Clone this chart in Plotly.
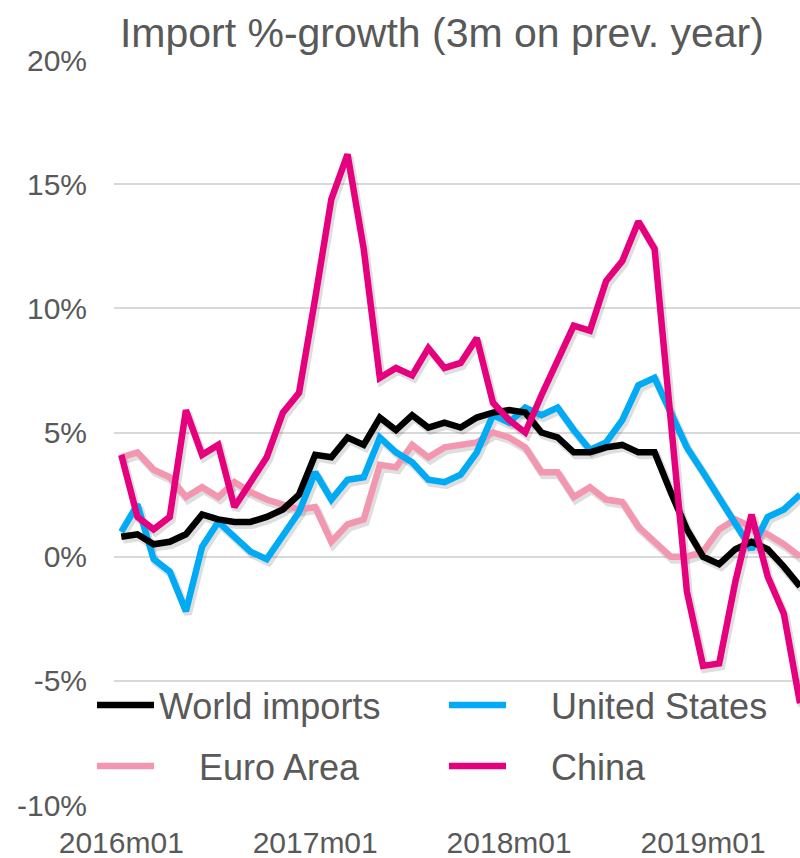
import plotly.graph_objects as go

months = [
    "2016m01", "2016m02", "2016m03", "2016m04", "2016m05", "2016m06", "2016m07", "2016m08", "2016m09", "2016m10", "2016m11", "2016m12",
    "2017m01", "2017m02", "2017m03", "2017m04", "2017m05", "2017m06", "2017m07", "2017m08", "2017m09", "2017m10", "2017m11", "2017m12",
    "2018m01", "2018m02", "2018m03", "2018m04", "2018m05", "2018m06", "2018m07", "2018m08", "2018m09", "2018m10", "2018m11", "2018m12",
    "2019m01", "2019m02", "2019m03", "2019m04", "2019m05", "2019m06", "2019m07",
]
tick_months = ["2016m01", "2017m01", "2018m01", "2019m01"]
y_ticks = [-10, -5, 0, 5, 10, 15, 20]
y_ticktext = ["-10%", "-5%", "0%", "5%", "10%", "15%", "20%"]

world = [0.8, 0.9, 0.5, 0.6, 0.9, 1.7, 1.5, 1.4, 1.4, 1.6, 1.9, 2.5,
         4.1, 4.0, 4.8, 4.5, 5.6, 5.1, 5.7, 5.2, 5.4, 5.2, 5.6, 5.8,
         5.9, 5.8, 5.0, 4.8, 4.2, 4.2, 4.4, 4.5, 4.2, 4.2, 2.6, 1.1,
         0.0, -0.3, 0.3, 0.6, 0.3, -0.4, -1.2]
usa = [1.0, 2.1, -0.1, -0.6, -2.2, 0.4, 1.4, 0.8, 0.2, -0.1, 0.8, 1.8,
       3.4, 2.3, 3.1, 3.2, 4.8, 4.2, 3.8, 3.1, 3.0, 3.3, 4.2, 5.7,
       5.4, 6.0, 5.7, 6.0, 5.1, 4.3, 4.6, 5.5, 6.9, 7.2, 5.8, 4.4,
       3.4, 2.4, 1.4, 0.3, 1.6, 1.9, 2.5]
euro = [4.0, 4.2, 3.5, 3.2, 2.4, 2.8, 2.4, 3.0, 2.6, 2.3, 2.1, 1.9,
        2.0, 0.6, 1.3, 1.5, 3.7, 3.6, 4.5, 4.0, 4.4, 4.5, 4.6, 5.0,
        4.8, 4.4, 3.4, 3.4, 2.4, 2.8, 2.3, 2.2, 1.2, 0.6, 0.0, 0.0,
        0.2, 1.1, 1.5, 1.2, 0.9, 0.5, 0.0]
china = [4.1, 1.6, 1.1, 1.6, 5.9, 4.1, 4.5, 2.0, 3.0, 4.0, 5.8, 6.6,
         10.4, 14.4, 16.2, 12.4, 7.2, 7.6, 7.3, 8.4, 7.6, 7.8, 8.8, 6.2,
         5.5, 5.0, 6.5, 7.9, 9.3, 9.1, 11.1, 11.9, 13.5, 12.4, 5.5, -1.4,
         -4.4, -4.3, -1.0, 1.7, -0.8, -2.3, -5.9]

NB = "\u00a0"
# name, values, colour, legend id, legend x (px), legend y (px)
series = [
    ("World imports", world, "#000000", "legend", 92, 705),
    (NB * 4 + "United States", usa, "#00AAF5", "legend2", 444, 705),
    (NB * 4 + "Euro Area", euro, "#F397B1", "legend3", 92, 766),
    (NB * 4 + "China", china, "#E5007D", "legend4", 444, 766),
]

FONT = "Liberation Sans, Arial, sans-serif"
GREY = "#595959"
L, T, W, H = 114, 60, 686, 745
X_RANGE = [-0.45, 42.0]
Y_RANGE = [-10, 20]
px_x = W / (X_RANGE[1] - X_RANGE[0])
px_y = H / (Y_RANGE[1] - Y_RANGE[0])
SHADOW_DX, SHADOW_DY = 2.0, 3.0

fig = go.Figure()
order = [2, 1, 0, 3]  # China on top
# soft drop shadows on the base axes (range shifted by a few pixels)
for idx in order:
    name, vals, col, lg, _, _ = series[idx]
    fig.add_trace(go.Scatter(
        x=months, y=vals, mode="lines", showlegend=False, hoverinfo="skip",
        line=dict(color="rgba(0,0,0,0.13)", width=8), xaxis="x", yaxis="y",
    ))
for idx in order:
    name, vals, col, lg, _, _ = series[idx]
    fig.add_trace(go.Scatter(
        x=months, y=vals, name=name, mode="lines",
        line=dict(color=col, width=6.5), legend=lg, xaxis="x2", yaxis="y2",
    ))

legends = {}
for name, vals, col, lg, lx, ly in series:
    legends[lg] = dict(orientation="h", x=(lx - L) / W, xanchor="left",
                       y=(T + H - ly) / H, yanchor="middle", itemwidth=57,
                       bgcolor="rgba(0,0,0,0)",
                       font=dict(family=FONT, size=36, color=GREY))

fig.update_layout(
    width=800, height=858,
    margin=dict(l=L, r=800 - L - W, t=T, b=858 - T - H),
    paper_bgcolor="white", plot_bgcolor="white",
    title=dict(text="Import %-growth (3m on prev. year)",
               x=0.478, xref="paper", xanchor="center",
               y=1 - 33 / 858, yref="container", yanchor="middle",
               font=dict(family=FONT, size=41, color=GREY)),
    xaxis=dict(type="category", categoryarray=months,
               range=[X_RANGE[0] - SHADOW_DX / px_x, X_RANGE[1] - SHADOW_DX / px_x],
               visible=False, showgrid=False, zeroline=False),
    yaxis=dict(range=[Y_RANGE[0] + SHADOW_DY / px_y, Y_RANGE[1] + SHADOW_DY / px_y],
               visible=False, showgrid=False, zeroline=False),
    xaxis2=dict(type="category", categoryarray=months, range=X_RANGE,
                overlaying="x", anchor="y2", side="bottom",
                tickmode="array", tickvals=tick_months, ticktext=tick_months,
                showgrid=False, showline=False, zeroline=False, ticks="",
                tickfont=dict(family=FONT, size=30, color=GREY),
                ticklabelstandoff=17),
    yaxis2=dict(range=Y_RANGE, overlaying="y", anchor="x2", side="left",
                tickmode="array", tickvals=y_ticks, ticktext=y_ticktext,
                showgrid=True, gridcolor="#D9D9D9", gridwidth=1.5,
                zeroline=False, showline=False, ticks="",
                tickfont=dict(family=FONT, size=30, color=GREY),
                ticklabelstandoff=26),
    showlegend=True,
    **legends,
)

fig.write_html("out.html", config={"displayModeBar": False},
               post_script="document.body.style.margin='0px';")
